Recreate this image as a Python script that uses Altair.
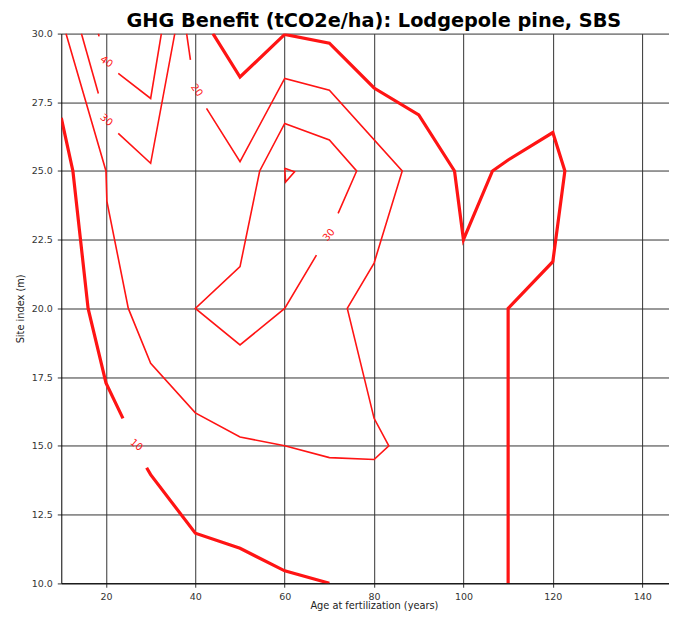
import altair as alt
import pandas as pd

# ---- contour segments (x = age, y = site index) ----
# level 10 (thick)
c10_a_x = [10, 12.6, 16, 20, 23.8]
c10_a_y = [26.93, 25.0, 20.0, 17.29, 16.0]
c10_b_x = [29.1, 30, 40, 50, 60, 70]
c10_b_y = [14.2, 13.95, 11.82, 11.27, 10.45, 10.0]
c10_c_x = [43.94, 50, 60, 70, 80, 90, 98, 100, 106.5, 110, 120, 122.7, 120, 110, 110]
c10_c_y = [30.0, 28.42, 29.97, 29.65, 28.02, 27.04, 25.0, 22.5, 25.0, 25.4, 26.4, 25.0, 21.7, 20.0, 10.0]
# level 20
c20_a_x = [11.05, 20, 20.2, 25, 30, 40, 50, 60, 70, 80, 83.3, 80, 74, 80, 86.3, 70, 60, 50, 42.5]
c20_a_y = [30.0, 25.0, 23.9, 20.0, 18.0, 16.2, 15.32, 15.0, 14.57, 14.5, 15.0, 16.0, 20.0, 21.65, 25.0, 27.94, 28.37, 25.34, 27.28]
c20_b_x = [38.9, 38.05]
c20_b_y = [29.04, 30.0]
# level 30
c30_a_x = [14.5, 18.3]
c30_a_y = [30.0, 27.82]
c30_b_x = [22.75, 30, 35.4]
c30_b_y = [26.37, 25.28, 30.0]
c30_c_x = [71.95, 76.1, 70, 60, 54.4, 50, 40, 50, 60, 67.1]
c30_c_y = [23.46, 25.0, 26.13, 26.73, 25.0, 21.52, 20.0, 18.67, 20.0, 21.94]
# level 40
c40_a_x = [18.3, 18.45]
c40_a_y = [30.0, 29.9]
c40_b_x = [22.75, 30, 32.4]
c40_b_y = [28.55, 27.64, 30.0]
c40_c_x = [60, 62.2, 60.2, 60]
c40_c_y = [25.1, 24.97, 24.6, 25.1]

segments = [
    ("c10_a", 10, c10_a_x, c10_a_y), ("c10_b", 10, c10_b_x, c10_b_y),
    ("c10_c", 10, c10_c_x, c10_c_y),
    ("c20_a", 20, c20_a_x, c20_a_y), ("c20_b", 20, c20_b_x, c20_b_y),
    ("c30_a", 30, c30_a_x, c30_a_y), ("c30_b", 30, c30_b_x, c30_b_y),
    ("c30_c", 30, c30_c_x, c30_c_y),
    ("c40_a", 40, c40_a_x, c40_a_y), ("c40_b", 40, c40_b_x, c40_b_y),
    ("c40_c", 40, c40_c_x, c40_c_y),
]

# contour labels
label_text = ["40", "30", "20", "30", "10"]
label_x = [20.1, 20.1, 40.3, 69.9, 26.8]
label_y = [28.97, 26.85, 27.94, 22.67, 15.03]
label_angle = [35, 40, 55, 310, 40]

x_ticks = [20, 40, 60, 80, 100, 120, 140]
y_ticks = [10, 12.5, 15, 17.5, 20, 22.5, 25, 27.5, 30]

rows = []
for name, lvl, xs, ys in segments:
    for i, (a, b) in enumerate(zip(xs, ys)):
        rows.append({"seg": name, "level": lvl, "i": i, "age": a, "si": b})
df = pd.DataFrame(rows)
lab = pd.DataFrame({"t": label_text, "age": label_x, "si": label_y, "ang": label_angle})

FONT = "DejaVu Sans"
xs = alt.Scale(domain=[10, 146], nice=False, zero=False)
ys = alt.Scale(domain=[10, 30], nice=False, zero=False)

xenc = alt.X("age:Q", scale=xs, axis=alt.Axis(
    values=x_ticks, format="d", title="Age at fertilization (years)",
    titleX=312.7, titleY=25.5, titleBaseline="alphabetic", labelPadding=4))
yenc = alt.Y("si:Q", scale=ys, axis=alt.Axis(
    values=y_ticks, format=".1f", title="Site index (m)", titlePadding=6, labelPadding=5))

base = alt.Chart(df)
thick = base.transform_filter("datum.level == 10").mark_line(
    color="#ff1414", strokeWidth=3.2, clip=True).encode(
    x=xenc, y=yenc, detail="seg:N", order="i:Q")
thin = base.transform_filter("datum.level != 10").mark_line(
    color="#ff1414", strokeWidth=1.6, clip=True).encode(
    x=xenc, y=yenc, detail="seg:N", order="i:Q")
labels = alt.Chart(lab).mark_text(color="#ff1414", fontSize=10, font=FONT).encode(
    x=alt.X("age:Q", scale=xs), y=alt.Y("si:Q", scale=ys), text="t:N",
    angle=alt.Angle("ang:Q", scale=None))

chart = alt.layer(thick, thin, labels).properties(
    width=607.9, height=549.8,
    title=alt.TitleParams("GHG Benefit (tCO2e/ha): Lodgepole pine, SBS",
                          fontSize=19.3, fontWeight="bold", font=FONT, color="black",
                          anchor="middle", dx=8.7, dy=7, offset=4),
    autosize=alt.AutoSizeParams(type="none"),
    padding={"left": 53.3, "top": 25.5, "right": 0, "bottom": 28.2},
    background="white",
).configure_view(stroke=None).configure_axis(
    grid=True, gridColor="#333333", gridWidth=1, gridOpacity=1,
    tickColor="#333333", tickSize=4, domainColor="black", domainWidth=1,
    labelFont=FONT, labelFontSize=9.5, labelColor="#333333",
    titleFont=FONT, titleFontSize=9.8, titleFontWeight="normal", titleColor="#222222",
)

chart.save("out.html", embed_options={"renderer": "svg", "actions": False})
